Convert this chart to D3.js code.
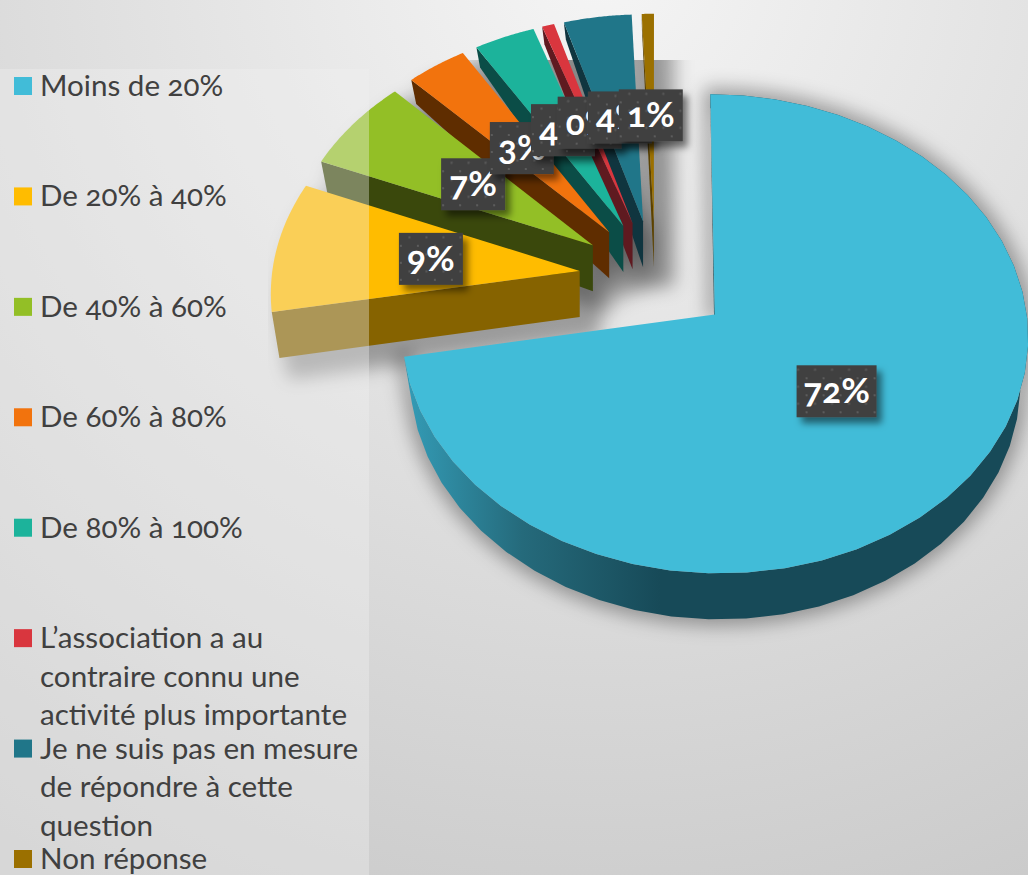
<!DOCTYPE html>
<html><head><meta charset="utf-8">
<script src="https://cdn.jsdelivr.net/npm/d3@7/dist/d3.min.js"></script>
<style>html,body{margin:0;padding:0;overflow:hidden}svg{display:block}
text{font-family:Lato,"Open Sans",sans-serif;font-feature-settings:"onum" 1,"lnum" 0;font-variant-numeric:oldstyle-nums}</style>
</head><body><svg id="c" width="1028" height="875"></svg>
<script>
const categories=[["Moins de 20%"],["De 20% à 40%"],["De 40% à 60%"],["De 60% à 80%"],["De 80% à 100%"],["L’association a au","contraire connu une","activité plus importante"],["Je ne suis pas en mesure","de répondre à cette","question"],["Non réponse"]];
const values=[72.2,9.0,6.5,3.5,3.5,0.7,3.9,0.7];
const labels=["72%","9%","7%","3%","4%","0%","4%","1%"];
const topColors=["#41bcd8","#ffbc00","#93bf26","#f2730d","#1cb39b","#d9363e","#207689","#9b7000"];
const wallColors=["#174a58","#866300","#3a480c","#5f2d00","#0b4d47","#5f1a20","#10353f","#5c4200"];

const W=1028,H=875,svg=d3.select("#c");
const defs=svg.append("defs");
const bg=defs.append("radialGradient").attr("id","bg").attr("gradientUnits","userSpaceOnUse")
 .attr("cx",600).attr("cy",-40).attr("r",1080);
bg.append("stop").attr("offset",0).attr("stop-color","#f5f5f5");
bg.append("stop").attr("offset",1).attr("stop-color","#c8c8c8");
const mw=defs.append("linearGradient").attr("id","mainWall").attr("gradientUnits","userSpaceOnUse")
 .attr("x1",410).attr("x2",660).attr("y1",0).attr("y2",0);
mw.append("stop").attr("offset",0).attr("stop-color","#339ab4");
mw.append("stop").attr("offset",.45).attr("stop-color","#256a7b");
mw.append("stop").attr("offset",1).attr("stop-color","#174a58");
const pat=defs.append("pattern").attr("id","dots").attr("patternUnits","userSpaceOnUse").attr("width",17).attr("height",17);
pat.append("rect").attr("width",17).attr("height",17).attr("fill","#404040");
[[3,3],[11.5,11.5]].forEach(p=>pat.append("rect").attr("x",p[0]).attr("y",p[1]).attr("width",2).attr("height",2).attr("fill","#5c5c5c"));
const blur=defs.append("filter").attr("id","blur").attr("x","-30%").attr("y","-30%").attr("width","160%").attr("height","160%");
blur.append("feGaussianBlur").attr("stdDeviation",9);
const ds=defs.append("filter").attr("id","boxShadow").attr("x","-30%").attr("y","-30%").attr("width","160%").attr("height","160%");
ds.append("feDropShadow").attr("dx",5).attr("dy",6).attr("stdDeviation",3.5).attr("flood-color","#000").attr("flood-opacity",.5);
defs.append("clipPath").attr("id","shadowClip").append("rect").attr("x",268).attr("y",60).attr("width",760).attr("height",587);

svg.append("rect").attr("width",W).attr("height",H).attr("fill","url(#bg)");

// projection of the tilted, exploded pie
const Cx=655.5,Cy=277,Rx=308,Ry=232,P=0.08,E=0.248;
const project=(X,Y)=>{const w=1+P*Y;return [Cx+Rx*X/w,Cy-Ry*Y/w];};
const pie=d3.pie().sort(null)(values);
const slices=pie.map((d,i)=>{
  const a0=d.startAngle,a1=d.endAngle,mid=(a0+a1)/2;
  const ox=E*Math.sin(mid),oy=E*Math.cos(mid);
  const pt=(a,r)=>project(ox+r*Math.sin(a),oy+r*Math.cos(a));
  const apex=pt(mid,0);
  const arc=d3.range(0,41).map(k=>pt(a0+(a1-a0)*k/40,1));
  const bottom=p=>{const dy=p[1]-apex[1];const depth=dy>=0?46:Math.max(47+.15*dy,0);
    return [apex[0]+.975*(p[0]-apex[0]),p[1]+depth];};
  return {i,a0,a1,mid,apex,arc,bottom,label:pt(mid,.49)};
});
const line=d3.line();
const order=slices.slice().reverse();
const silhouette=s=>{
  const pts=[s.apex,...s.arc];
  return d3.polygonHull([...pts,...pts.map(s.bottom)].map(p=>p.slice()));
};
// soft shadows clipped to the chart frame
const shadow=svg.append("g").attr("clip-path","url(#shadowClip)").append("g").attr("filter","url(#blur)");
order.forEach(s=>{
  const outline=s.i===0?[s.apex,...s.arc,...s.arc.slice().reverse().map(s.bottom)]:silhouette(s);
  shadow.append("path").attr("d",line(outline)+"Z").attr("fill","#000").attr("stroke","#000")
   .attr("transform",s.i===0?null:"translate(14,14)")
   .attr("stroke-width",14).attr("stroke-linejoin","round").attr("opacity",.32);
});
// slices, painted back to front
const g=svg.append("g");
order.forEach(s=>{
  const c=g.append("g");
  const first=s.arc[0],b=s.bottom;
  if(s.i===0){
    c.append("path").attr("d",line([...s.arc,...s.arc.slice().reverse().map(b)])+"Z").attr("fill","url(#mainWall)");
    c.append("path").attr("d",line([s.apex,first,b(first),b(s.apex)])+"Z").attr("fill","#17535f");
    c.append("path").attr("d",line([s.apex,...s.arc])+"Z").attr("fill",topColors[0]);
  }else{
    c.append("path").attr("d",line([s.apex,first,b(first),b(s.apex)])+"Z").attr("fill",wallColors[s.i]);
    c.append("path").attr("d",line([s.apex,...s.arc])+"Z").attr("fill",topColors[s.i]);
  }
});
// translucent panel
svg.append("rect").attr("x",0).attr("y",69).attr("width",369).attr("height",H-69).attr("fill","#f0f0f0").attr("opacity",.36);
// data labels
const bw=64,bh=52;
const lab=svg.append("g");
slices.slice(1).concat([slices[0]]).forEach(s=>{
  const big=s.i===0;const w=big?80:bw;
  const gg=lab.append("g").attr("transform",`translate(${s.label[0]},${s.label[1]})`);
  gg.append("rect").attr("x",-w/2).attr("y",-bh/2).attr("width",w).attr("height",bh).attr("fill","url(#dots)").attr("filter","url(#boxShadow)");
  gg.append("text").attr("text-anchor","middle").attr("y",12).attr("font-size",35).attr("font-weight",700).attr("fill","#fff").text(labels[s.i]);
});
// legend
const ly=d3.scalePoint().domain(d3.range(categories.length)).range([86,859]);
const lg=svg.append("g");
categories.forEach((lines,i)=>{
  const y=ly(i);
  lg.append("rect").attr("x",14).attr("y",y-9).attr("width",18).attr("height",18).attr("fill",topColors[i]);
  const t=lg.append("text").attr("x",40).attr("y",y+10).attr("font-size",29.6).attr("fill","#404040");
  lines.forEach((l,k)=>t.append("tspan").attr("x",40).attr("y",y+10+k*38.6).text(l));
});
</script></body></html>
